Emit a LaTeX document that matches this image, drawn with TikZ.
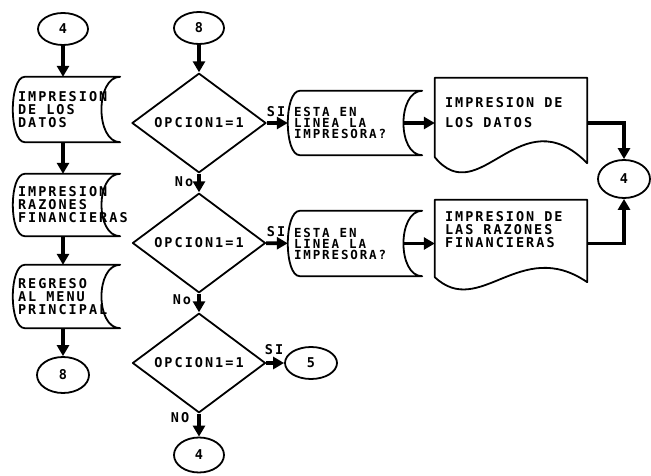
\documentclass[tikz,border=0pt]{standalone}
\usepackage{fontspec}
\newfontfamily\plotfont[LetterSpace=15]{DejaVu Sans Mono}
\newcommand{\gap}{\hspace{10pt}}
\usetikzlibrary{shapes.geometric,arrows.meta}

\tikzset{
  outline/.style={line width=1.8pt, line join=round},
  flow/.style={line width=3.6pt, -{Triangle[length=11pt,width=12pt]}},
  conn/.style={ellipse, draw, outline, minimum width=50pt, minimum height=32pt, inner sep=0pt},
  decis/.style={diamond, draw, outline, minimum width=134pt, minimum height=90pt, inner sep=0pt},
  stored/.style={inner xsep=5pt, inner ysep=0pt, align=left, text width=97pt},
  storedr/.style={inner xsep=6pt, inner ysep=0pt, align=left, text width=122pt,
    font=\plotfont\bfseries\fontsize{12.5}{11}\selectfont},
  docu/.style={inner xsep=10pt, inner ysep=0pt, align=left, text width=132pt},
  lbl/.style={inner sep=0pt}
}

\begin{document}
\begin{tikzpicture}
  [x=1pt,y=-1pt,every node/.style={font=\plotfont\bfseries\fontsize{13.5}{13}\selectfont}]
  \useasboundingbox (0,0) rectangle (651,476);

  % left column
  \node[conn] (c4l) at (63,29) {4};
  \node[stored,minimum height=65pt] (l1) at (66.5,109.5) {IMPRESION\\DE\gap LOS\\DATOS};
  \node[stored,minimum height=62pt] (l2) at (66.5,205) {IMPRESION\\RAZONES\\FINANCIERAS};
  \node[stored,minimum height=63pt] (l3) at (66.5,296.5) {REGRESO\\AL\gap MENU\\PRINCIPAL};
  \node[conn,minimum width=52pt,minimum height=36pt] (c8l) at (63,375) {8};

  % middle column
  \node[conn] (c8m) at (199,28) {8};
  \node[decis] (q1) at (199,123) {OPCION1=1};
  \node[decis,minimum width=133pt,minimum height=84pt] (q2) at (199,243) {OPCION1=1};
  \node[decis,minimum width=133pt] (q3) at (199,363) {OPCION1=1};
  \node[conn,minimum width=52pt] (c5) at (311,363) {5};
  \node[conn,minimum height=35pt] (c4m) at (199,455) {4};

  % printer checks and reports
  \node[storedr,minimum height=64pt] (s1) at (355,123) {ESTA\gap EN\\LINEA\gap LA\\IMPRESORA?};
  \node[storedr,minimum height=65pt] (s2) at (355,243.5) {ESTA\gap EN\\LINEA\gap LA\\IMPRESORA?};
  \node[docu,minimum height=70pt] (d1) at (511,113) {IMPRESION\gap DE\\[7pt]LOS\gap DATOS};
  \node[docu,minimum height=59pt] (d2) at (511,229.5) {IMPRESION\gap DE\\LAS\gap RAZONES\\FINANCIERAS};
  \node[conn,minimum width=52pt,minimum height=38pt] (c4r) at (624,179) {4};

  % branch labels
  \node[lbl] (si1) at (276,112) {SI};
  \node[lbl] (si2) at (276,232) {SI};
  \node[lbl] (si3) at (274,350) {SI};
  \node[lbl] (no1) at (184,182) {No};
  \node[lbl] (no2) at (182,300) {No};
  \node[lbl] (no3) at (180,418) {NO};

  % stored data outlines
  \foreach \n in {l1,l2,l3,s1,s2}
    \draw[outline] ([xshift=12pt]\n.north west) -- (\n.north east)
      .. controls ([xshift=-25pt]\n.north east) and ([xshift=-25pt]\n.south east) .. (\n.south east)
      -- ([xshift=12pt]\n.south west)
      .. controls ([xshift=-4pt]\n.south west) and ([xshift=-4pt]\n.north west) .. cycle;

  % document outlines
  \foreach \n/\yl/\yr/\ya/\yb in {d1/9/15/-53/64, d2/18/23/-23/60}
    \draw[outline] (\n.north west) -- (\n.north east) -- ([shift={(0,\yr)}]\n.south east)
      .. controls ([shift={(-67,\ya)}]\n.south east) and ([shift={(45,\yb)}]\n.south west)
      .. ([shift={(0,\yl)}]\n.south west) -- cycle;

  % connectors
  \draw[flow] (c4l) -- (c4l |- l1.north);
  \draw[flow] (c4l |- l1.south) -- (c4l |- l2.north);
  \draw[flow] (c4l |- l2.south) -- (c4l |- l3.north);
  \draw[flow] (c8l |- l3.south) -- (c8l);
  \foreach \from/\to in {c8m/q1,q1/q2,q2/q3,q3/c4m,q3/c5,q1/s1,q2/s2}
    \draw[flow] (\from) -- (\to);
  \draw[flow] ([xshift=-19pt]s1.east) -- (d1.west |- s1.east);
  \draw[flow] ([xshift=-19pt]s2.east) -- (d2.west |- s2.east);
  \draw[flow] (d1.east |- s1.east) -| (c4r);
  \draw[flow] (d2.east |- s2.east) -| (c4r);
\end{tikzpicture}
\end{document}
